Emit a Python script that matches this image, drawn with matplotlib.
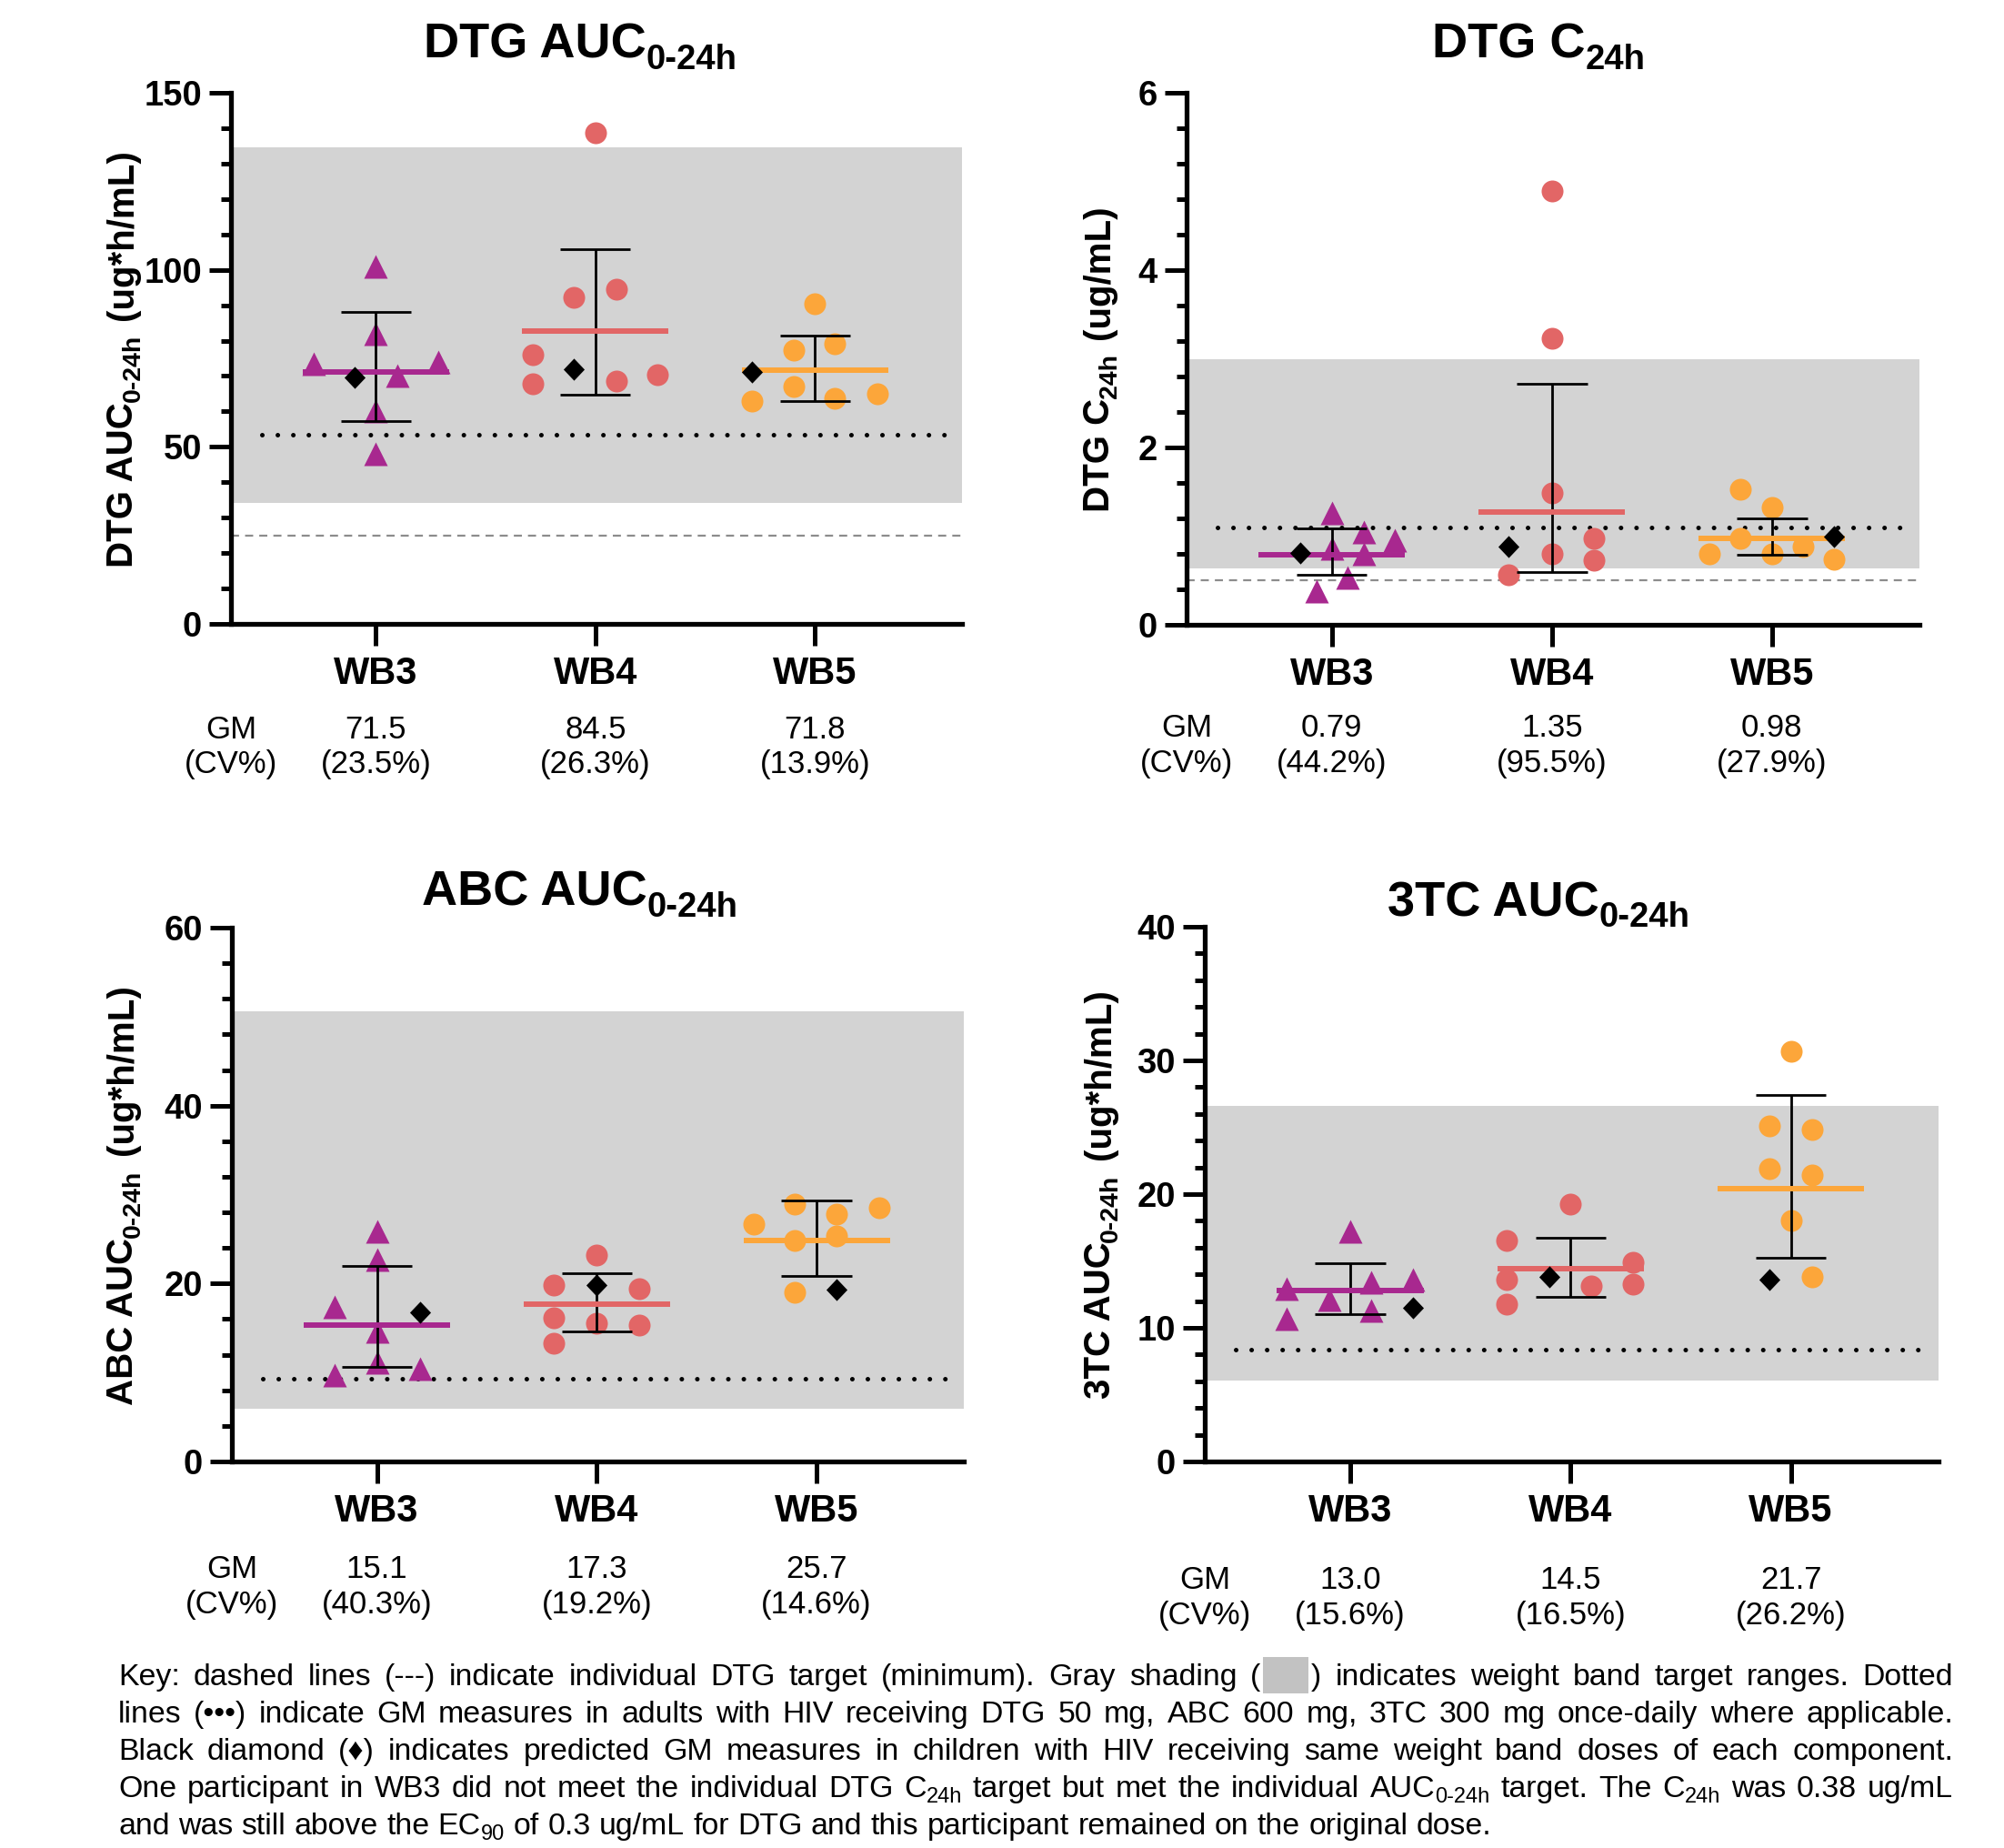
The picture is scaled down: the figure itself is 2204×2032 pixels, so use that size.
import re
import matplotlib
matplotlib.use('Agg')
import matplotlib.pyplot as plt
import matplotlib.transforms as mtransforms
from matplotlib.patches import Rectangle
from matplotlib.ticker import MultipleLocator

W, H = 2204, 2032
FAM = ['Liberation Sans', 'DejaVu Sans']
plt.rcParams['font.family'] = FAM

# ---------------- data ----------------
categories = ["WB3", "WB4", "WB5"]

# DTG AUC0-24h (ug*h/mL)
dtg_auc_wb3 = [101.0, 82.0, 73.5, 74.0, 70.0, 60.0, 48.0]
dtg_auc_wb4 = [138.7, 94.5, 92.3, 76.1, 67.9, 68.5, 70.3]
dtg_auc_wb5 = [90.5, 79.2, 77.3, 67.0, 62.9, 63.7, 64.9]
dtg_auc_pred = [69.5, 72.0, 71.2]
dtg_auc_center = [71.2, 82.7, 71.6]
dtg_auc_lo = [57.2, 64.7, 63.0]
dtg_auc_hi = [88.0, 105.7, 81.3]
dtg_auc_band = [34.2, 134.5]
dtg_auc_adult = 53.3
dtg_auc_target = 25.0
dtg_auc_gm = ["71.5", "84.5", "71.8"]
dtg_auc_cv = ["(23.5%)", "(26.3%)", "(13.9%)"]

# DTG C24h (ug/mL)
dtg_c24_wb3 = [1.26, 1.045, 0.95, 0.86, 0.80, 0.53, 0.38]
dtg_c24_wb4 = [4.89, 3.23, 1.49, 0.97, 0.80, 0.73, 0.565]
dtg_c24_wb5 = [1.53, 1.32, 0.97, 0.88, 0.80, 0.80, 0.74]
dtg_c24_pred = [0.81, 0.88, 0.99]
dtg_c24_center = [0.79, 1.27, 0.97]
dtg_c24_lo = [0.565, 0.59, 0.79]
dtg_c24_hi = [1.09, 2.72, 1.20]
dtg_c24_band = [0.635, 3.0]
dtg_c24_adult = 1.10
dtg_c24_target = 0.5
dtg_c24_gm = ["0.79", "1.35", "0.98"]
dtg_c24_cv = ["(44.2%)", "(95.5%)", "(27.9%)"]

# ABC AUC0-24h (ug*h/mL)
abc_auc_wb3 = [25.9, 22.7, 17.4, 14.6, 11.1, 10.4, 9.7]
abc_auc_wb4 = [23.2, 19.8, 19.4, 16.2, 15.5, 15.3, 13.3]
abc_auc_wb5 = [28.9, 28.5, 27.8, 26.7, 24.8, 25.4, 19.0]
abc_auc_pred = [16.8, 19.8, 19.3]
abc_auc_center = [15.3, 17.65, 24.8]
abc_auc_lo = [10.6, 14.6, 20.9]
abc_auc_hi = [22.0, 21.2, 29.3]
abc_auc_band = [5.9, 50.6]
abc_auc_adult = 9.3
abc_auc_gm = ["15.1", "17.3", "25.7"]
abc_auc_cv = ["(40.3%)", "(19.2%)", "(14.6%)"]

# 3TC AUC0-24h (ug*h/mL)
tc_auc_wb3 = [17.2, 12.9, 13.4, 13.6, 12.1, 11.3, 10.7]
tc_auc_wb4 = [19.25, 16.5, 14.9, 13.6, 13.25, 13.1, 11.8]
tc_auc_wb5 = [30.7, 25.1, 24.8, 21.9, 21.4, 18.0, 13.8]
tc_auc_pred = [11.5, 13.8, 13.6]
tc_auc_center = [12.8, 14.4, 20.4]
tc_auc_lo = [11.0, 12.3, 15.25]
tc_auc_hi = [14.8, 16.75, 27.4]
tc_auc_band = [6.06, 26.6]
tc_auc_adult = 8.4
tc_auc_gm = ["13.0", "14.5", "21.7"]
tc_auc_cv = ["(15.6%)", "(16.5%)", "(26.2%)"]

# ---------------- layout (horizontal jitter of points, in category units) ----------------
jit_dtg_auc = [[0, 0, -.285, .285, .098, 0, 0],
               [0, .095, -.098, -.285, -.285, .095, .283],
               [0, .092, -.098, -.098, -.285, .092, .283]]
poff_dtg_auc = [-.095, -.098, -.285]
jit_dtg_c24 = [[0, .145, .285, 0, .145, .071, -.071],
               [0, 0, 0, .19, 0, .19, -.198],
               [-.145, 0, -.145, .142, -.285, 0, .282]]
poff_dtg_c24 = [-.145, -.198, .282]
jit_abc = [[0, 0, -.193, 0, 0, .195, -.193],
           [0, -.195, .193, -.195, 0, .193, -.195],
           [-.098, .285, .092, -.285, -.098, .092, -.098]]
poff_abc = [.195, 0, .092]
jit_3tc = [[0, -.288, .095, .285, -.095, .095, -.288],
           [0, -.288, .285, -.288, .285, .095, -.288],
           [0, -.098, .098, -.098, .098, 0, .098]]
poff_3tc = [.285, -.095, -.098]

COLORS = ['#A8288F', '#E26666', '#FCA63A']
MARKERS = ['^', 'o', 'o']
MSIZE = [19, 17.3, 17.3]
BAND_COLOR = '#D3D3D3'
XLIM = (-0.66, 2.67)

panels = [
    dict(box=(254, 1058, 102, 686), ymax=150, major=50, minor=10,
         groups=[dtg_auc_wb3, dtg_auc_wb4, dtg_auc_wb5], jit=jit_dtg_auc,
         pred=dtg_auc_pred, poff=poff_dtg_auc, center=dtg_auc_center,
         lo=dtg_auc_lo, hi=dtg_auc_hi, band=dtg_auc_band, adult=dtg_auc_adult,
         target=dtg_auc_target, gm=dtg_auc_gm, cv=dtg_auc_cv,
         title=("DTG AUC", "0-24h", ""), title_xy=(638, 64),
         ylab=("DTG AUC", "0-24h", "(ug*h/mL)"), ylab_x=146, gm_y=(812, 850)),
    dict(box=(1305, 2111, 102, 687), ymax=6, major=2, minor=0.4,
         groups=[dtg_c24_wb3, dtg_c24_wb4, dtg_c24_wb5], jit=jit_dtg_c24,
         pred=dtg_c24_pred, poff=poff_dtg_c24, center=dtg_c24_center,
         lo=dtg_c24_lo, hi=dtg_c24_hi, band=dtg_c24_band, adult=dtg_c24_adult,
         target=dtg_c24_target, gm=dtg_c24_gm, cv=dtg_c24_cv,
         title=("DTG C", "24h", ""), title_xy=(1692, 64),
         ylab=("DTG C", "24h", "(ug/mL)"), ylab_x=1220, gm_y=(810, 849)),
    dict(box=(255, 1060, 1020, 1607), ymax=60, major=20, minor=4,
         groups=[abc_auc_wb3, abc_auc_wb4, abc_auc_wb5], jit=jit_abc,
         pred=abc_auc_pred, poff=poff_abc, center=abc_auc_center,
         lo=abc_auc_lo, hi=abc_auc_hi, band=abc_auc_band, adult=abc_auc_adult,
         target=None, gm=abc_auc_gm, cv=abc_auc_cv,
         title=("ABC AUC", "0-24h", ""), title_xy=(638, 996),
         ylab=("ABC AUC", "0-24h", "(ug*h/mL)"), ylab_x=146, gm_y=(1735, 1774)),
    dict(box=(1325, 2132, 1019, 1607), ymax=40, major=10, minor=2,
         groups=[tc_auc_wb3, tc_auc_wb4, tc_auc_wb5], jit=jit_3tc,
         pred=tc_auc_pred, poff=poff_3tc, center=tc_auc_center,
         lo=tc_auc_lo, hi=tc_auc_hi, band=tc_auc_band, adult=tc_auc_adult,
         target=None, gm=tc_auc_gm, cv=tc_auc_cv,
         title=("3TC AUC", "0-24h", ""), title_xy=(1692, 1007),
         ylab=("3TC AUC", "0-24h", "(ug*h/mL)"), ylab_x=1221, gm_y=(1747, 1786)),
]

fig = plt.figure(figsize=(W / 100, H / 100), dpi=100)
renderer = fig.canvas.get_renderer()


def text_width(s, size, weight='normal'):
    t = fig.text(0, 0, s, fontsize=size, fontweight=weight)
    w = t.get_window_extent(renderer).width
    t.remove()
    return w


def rich(segs, x, y, rot=0, align='center'):
    """segs: list of (text_or_gap_px, size, weight, drop_px). x, y in pixels (top origin)."""
    widths = [text_width(s, sz, wt) if isinstance(s, str) else s for s, sz, wt, d in segs]
    total = sum(widths)
    pos = -total / 2 if align == 'center' else 0
    for (s, sz, wt, d), w in zip(segs, widths):
        if isinstance(s, str):
            if rot == 0:
                px, py = x + pos, y + d
            else:
                px, py = x + d, y - pos
            fig.text(px / W, 1 - py / H, s, fontsize=sz, fontweight=wt, rotation=rot,
                     rotation_mode='anchor', ha='left', va='baseline')
        pos += w


DIAMOND = [(0, 1), (0.95, 0), (0, -1), (-0.95, 0), (0, 1)]

for p in panels:
    l, r, t, b = p['box']
    ax = fig.add_axes([l / W, 1 - b / H, (r - l) / W, (b - t) / H])
    ax.set_xlim(*XLIM)
    ax.set_ylim(0, p['ymax'])
    ax.set_facecolor('none')
    for s in ['top', 'right']:
        ax.spines[s].set_visible(False)
    for s in ['left', 'bottom']:
        ax.spines[s].set_linewidth(3.8)
    ax.axhspan(p['band'][0], p['band'][1], color=BAND_COLOR, lw=0, zorder=0.5)
    ax.plot([-0.52, 2.61], [p['adult'], p['adult']], color='black', lw=3.6,
            ls=(0, (0.01, 3.4)), dash_capstyle='round', zorder=1.5)
    if p['target'] is not None:
        ax.axhline(p['target'], color='#8C8C8C', lw=1.6, ls=(0, (4, 3)), zorder=1.5)
    for i, vals in enumerate(p['groups']):
        xs = [i + o for o in p['jit'][i]]
        ax.plot(xs, vals, ls='none', marker=MARKERS[i], ms=MSIZE[i], color=COLORS[i],
                mec='none', zorder=3, clip_on=False)
        ax.vlines(i, p['lo'][i], p['hi'][i], color='black', lw=2.0, zorder=4)
        ax.hlines([p['lo'][i], p['hi'][i]], i - 0.16, i + 0.16, color='black', lw=2.0, zorder=4)
        ax.hlines(p['center'][i], i - 0.333, i + 0.333, color=COLORS[i], lw=4.3, zorder=5)
        ax.plot([i + p['poff'][i]], [p['pred'][i]], ls='none', marker=DIAMOND, ms=17.5,
                color='black', mec='none', zorder=6)
    # ticks
    ax.set_xticks(range(len(categories)))
    ax.set_xticklabels(categories, fontsize=30, fontweight='bold')
    ax.tick_params(axis='x', length=17, width=3.6, pad=8)
    yt = [k * p['major'] for k in range(int(round(p['ymax'] / p['major'])) + 1)]
    ax.set_yticks(yt)
    ax.set_yticklabels([f"{v:g}" for v in yt], fontsize=27.5, fontweight='bold')
    ax.yaxis.set_minor_locator(MultipleLocator(p['minor']))
    ax.tick_params(axis='y', which='major', length=17, width=3.6, pad=6)
    ax.tick_params(axis='y', which='minor', length=8, width=3.6)
    # GM / CV rows
    trans = mtransforms.blended_transform_factory(ax.transData, fig.transFigure)
    gy, cy = p['gm_y']
    ax.text(XLIM[0], 1 - gy / H, "GM", transform=trans, ha='center', va='baseline', fontsize=25)
    ax.text(XLIM[0], 1 - cy / H, "(CV%)", transform=trans, ha='center', va='baseline', fontsize=25)
    for i in range(len(categories)):
        ax.text(i, 1 - gy / H, p['gm'][i], transform=trans, ha='center', va='baseline', fontsize=25)
        ax.text(i, 1 - cy / H, p['cv'][i], transform=trans, ha='center', va='baseline', fontsize=25)
    # title
    m, sub, _ = p['title']
    rich([(m, 39, 'bold', 0), (sub, 27.5, 'bold', 12)], p['title_xy'][0], p['title_xy'][1])
    # y label
    m, sub, unit = p['ylab']
    yc = (t + b) / 2
    rich([(m, 29, 'bold', 0), (sub, 20.5, 'bold', 8), (16, 0, 0, 0), (unit, 29, 'bold', 0)],
         p['ylab_x'], yc, rot=90)

# ---------------- key text (justified) ----------------
key_lines = [
    "Key: dashed lines (---) indicate individual DTG target (minimum). Gray shading ([BOX]) indicates weight band target ranges. Dotted",
    "lines (\u2022\u2022\u2022) indicate GM measures in adults with HIV receiving DTG 50 mg, ABC 600 mg, 3TC 300 mg once-daily where applicable.",
    "Black diamond (\u2666) indicates predicted GM measures in children with HIV receiving same weight band doses of each component.",
    "One participant in WB3 did not meet the individual DTG C_{24h} target but met the individual AUC_{0-24h} target. The C_{24h} was 0.38 ug/mL",
    "and was still above the EC_{90} of 0.3 ug/mL for DTG and this participant remained on the original dose.",
]
KEY_SIZE = 24.4
SUB_SIZE = 17
BOX_W = 50
X0, X1 = 130, 2148
BASE0, LSTEP = 1853, 41


def parse_word(word):
    segs = []
    for tok in re.split(r'(_\{[^}]*\}|\[BOX\])', word):
        if not tok:
            continue
        if tok == '[BOX]':
            segs.append(('BOX', BOX_W + 6))
        elif tok.startswith('_{'):
            segs.append((tok[2:-1], text_width(tok[2:-1], SUB_SIZE), SUB_SIZE, 6))
        else:
            segs.append((tok, text_width(tok, KEY_SIZE), KEY_SIZE, 0))
    return segs


space_w = text_width("a a", KEY_SIZE) - text_width("aa", KEY_SIZE)
for li, line in enumerate(key_lines):
    base = BASE0 + li * LSTEP
    words = [parse_word(w) for w in line.split(' ')]
    wwidths = [sum(s[1] for s in wd) for wd in words]
    if li < len(key_lines) - 1:
        gap = (X1 - X0 - sum(wwidths)) / (len(words) - 1)
    else:
        gap = space_w
    x = X0
    for wd, ww in zip(words, wwidths):
        cx = x
        for s in wd:
            if s[0] == 'BOX':
                fig.patches.append(Rectangle(((cx + 3) / W, 1 - (base + 9) / H), BOX_W / W, 40 / H,
                                             transform=fig.transFigure, color='#C2C2C2', lw=0))
                cx += s[1]
            else:
                txt, w, sz, d = s
                fig.text(cx / W, 1 - (base + d) / H, txt, fontsize=sz, ha='left', va='baseline')
                cx += w
        x += ww + gap

fig.savefig('out.png', dpi=100)
